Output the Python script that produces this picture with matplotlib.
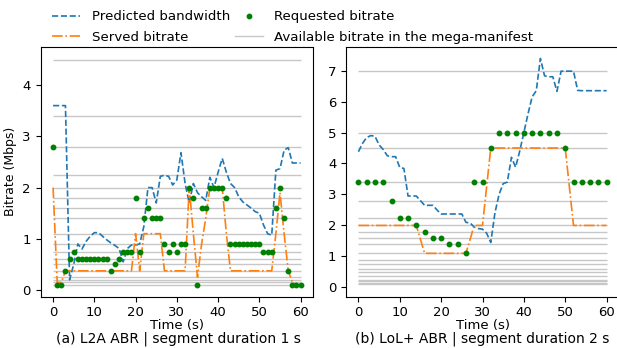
import matplotlib
matplotlib.use("Agg")
import matplotlib.pyplot as plt
from matplotlib.lines import Line2D

# ---- Data: (a) L2A ABR, segment duration 1 s ----
t_a = list(range(0, 61))
pred_a = [3.6, 3.6, 3.6, 3.6, 0.2, 0.5, 0.9, 0.8, 0.95, 1.05,
          1.12, 1.12, 1.05, 0.98, 0.92, 0.87, 0.81, 0.55, 0.81, 0.88,
          0.88, 0.9, 1.24, 2.0, 2.0, 1.7, 2.22, 2.24, 2.22, 2.05,
          2.15, 2.68, 2.08, 1.7, 2.08, 1.9, 1.82, 1.75, 2.2, 2.0,
          2.3, 2.57, 2.3, 2.08, 2.0, 1.82, 1.72, 1.66, 1.6, 1.53,
          1.5, 1.27, 1.1, 1.07, 2.34, 2.37, 2.73, 2.78, 2.48, 2.48,
          2.48]
served_a = [2.0, 0.15, 0.15, 0.375, 0.375, 0.375, 0.375, 0.375, 0.375, 0.375,
            0.375, 0.375, 0.375, 0.375, 0.375, 0.375, 0.375, 0.375, 0.375, 0.375,
            1.1, 0.375, 1.1, 1.1, 1.1, 1.1, 1.1, 0.375, 0.375, 0.375,
            0.375, 0.375, 0.375, 2.0, 1.1, 0.25, 0.9, 1.4, 2.0, 2.0,
            2.0, 2.0, 1.1, 0.375, 0.375, 0.375, 0.375, 0.375, 0.375, 0.375,
            0.375, 0.375, 0.375, 0.375, 1.1, 1.9, 1.1, 0.375, 0.15, 0.1,
            0.1]
req_a = [2.8, 0.1, 0.1, 0.375, 0.6, 0.75, 0.6, 0.6, 0.6, 0.6,
         0.6, 0.6, 0.6, 0.6, 0.375, 0.5, 0.6, 0.75, 0.75, 0.75,
         1.8, 0.75, 1.4, 1.6, 1.4, 1.4, 1.4, 0.9, 0.75, 0.9,
         0.75, 0.9, 0.9, 2.0, 1.8, 0.1, 1.6, 1.6, 2.0, 2.0,
         2.0, 2.0, 1.8, 0.9, 0.9, 0.9, 0.9, 0.9, 0.9, 0.9,
         0.9, 0.75, 0.75, 0.75, 1.6, 2.0, 1.4, 0.375, 0.1, 0.1,
         0.1]
ladder_a = [0.1, 0.15, 0.2, 0.25, 0.375, 0.5, 0.6, 0.75, 0.9, 1.1,
            1.4, 1.6, 1.8, 2.0, 2.25, 2.8, 3.4, 4.5]

# ---- Data: (b) LoL+ ABR, segment duration 2 s ----
t_b_pred = list(range(0, 61))
pred_b = [4.38, 4.65, 4.84, 4.9, 4.88, 4.6, 4.45, 4.25, 4.22, 4.22,
          3.87, 3.84, 2.95, 2.95, 2.95, 2.8, 2.65, 2.65, 2.65, 2.5,
          2.37, 2.37, 2.37, 2.37, 2.37, 2.37, 2.1, 2.08, 1.95, 1.9,
          1.88, 1.75, 1.45, 2.4, 3.0, 3.35, 3.4, 4.2, 3.88, 4.4,
          5.0, 5.6, 6.15, 6.35, 7.39, 6.83, 6.8, 6.8, 6.33, 6.98,
          6.98, 6.98, 6.98, 6.36, 6.35, 6.35, 6.35, 6.35, 6.35, 6.35,
          6.35]
t_b = list(range(0, 61, 2))
served_b = [2.0, 2.0, 2.0, 2.0, 2.0, 2.0, 2.0, 2.0, 1.1, 1.1,
            1.1, 1.1, 1.1, 1.1, 2.0, 2.0, 4.5, 4.5, 4.5, 4.5,
            4.5, 4.5, 4.5, 4.5, 4.5, 4.5, 2.0, 2.0, 2.0, 2.0,
            2.0]
req_b = [3.4, 3.4, 3.4, 3.4, 2.8, 2.25, 2.25, 2.0, 1.8, 1.6,
         1.6, 1.4, 1.4, 1.1, 3.4, 3.4, 4.5, 5.0, 5.0, 5.0,
         5.0, 5.0, 5.0, 5.0, 5.0, 4.5, 3.4, 3.4, 3.4, 3.4,
         3.4]
ladder_b = ladder_a + [5.0, 7.0]

captions = ["(a) L2A ABR | segment duration 1 s",
            "(b) LoL+ ABR | segment duration 2 s"]
legend_labels = ['Predicted bandwidth', 'Served bitrate', 'Requested bitrate',
                 'Available bitrate in the mega-manifest']

plt.rcParams['font.family'] = ['DejaVu Sans']
plt.rcParams['font.size'] = 9.5

fig = plt.figure(figsize=(6.17, 3.48), dpi=100)
W, H = 617.0, 348.0
ax1 = fig.add_axes([40.7 / W, 1 - 296.7 / H, (313 - 40.7) / W, (296.7 - 46.7) / H])
ax2 = fig.add_axes([346 / W, 1 - 296.7 / H, (619 - 346) / W, (296.7 - 46.7) / H])

blue = '#1f77b4'
orange = '#ff7f0e'
green = 'green'
gray = '0.78'

def draw(ax, ladder, tp, pred, ts, served, req):
    ax.hlines(ladder, 0, 60, colors=gray, lw=1.0, zorder=1)
    ax.plot(tp, pred, color=blue, ls='--', lw=1.2, zorder=3)
    ax.plot(ts, served, color=orange, ls='-.', lw=1.2, zorder=3)
    ax.plot(ts, req, ls='none', marker='o', ms=3.2, color=green, zorder=4)
    ax.set_xlim(-3, 63)
    ax.set_xticks([0, 10, 20, 30, 40, 50, 60])
    ax.set_xlabel('Time (s)', labelpad=0)

draw(ax1, ladder_a, t_a, pred_a, t_a, served_a, req_a)
draw(ax2, ladder_b, t_b_pred, pred_b, t_b, served_b, req_b)
ax1.set_ylim(-0.13, 4.75)
ax1.set_yticks([0, 1, 2, 3, 4])
ax2.set_ylim(-0.3, 7.77)
ax2.set_yticks([0, 1, 2, 3, 4, 5, 6, 7])
ax1.set_ylabel('Bitrate (Mbps)', labelpad=4, fontsize=9)

fig.text(178 / W, 1 - 339 / H, captions[0], ha='center', va='center', fontsize=10)
fig.text(482 / W, 1 - 339 / H, captions[1], ha='center', va='center', fontsize=10)

handles = [Line2D([], [], color=blue, ls='--', lw=1.2),
           Line2D([], [], color=orange, ls='-.', lw=1.2),
           Line2D([], [], ls='none', marker='o', ms=3.2, color=green),
           Line2D([], [], color=gray, lw=1.0)]
fig.legend(handles, legend_labels, ncol=2, loc='upper left',
           bbox_to_anchor=(47 / W, 1 - 5 / H), frameon=False,
           handlelength=2.1, handletextpad=0.85, columnspacing=0.35,
           labelspacing=0.55, borderaxespad=0.0, fontsize=9.6)

fig.savefig('out.png', dpi=100)
